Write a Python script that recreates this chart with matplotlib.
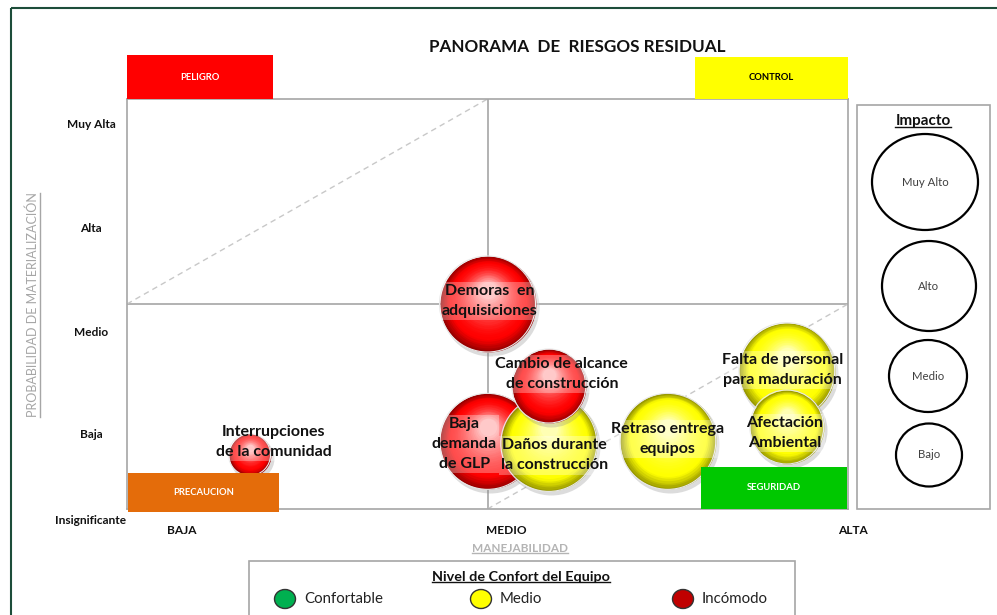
import numpy as np
import matplotlib
matplotlib.use("Agg")
import matplotlib.pyplot as plt
from matplotlib.patches import Rectangle, Ellipse
from matplotlib.transforms import ScaledTranslation
from matplotlib.colors import to_rgb

plt.rcParams['font.family'] = ['Lato', 'DejaVu Sans']

# datos del panorama
riesgos = ["Baja\ndemanda\nde GLP", "Daños durante\nla construcción",
           "Cambio de alcance\nde construcción", "Demoras  en\nadquisiciones",
           "Retraso entrega\nequipos", "Falta de personal\npara maduración",
           "Afectación\nAmbiental", "Interrupciones\nde la comunidad"]
manejabilidad = [5.0, 5.85, 5.85, 5.0, 7.5, 9.15, 9.15, 1.7]
probabilidad = [0.66, 0.64, 1.2, 2.0, 0.66, 1.35, 0.8, 0.53]
impacto = ["Alto", "Alto", "Medio", "Alto", "Alto", "Alto", "Medio", "Bajo"]
confort = ["Incómodo", "Medio", "Incómodo", "Incómodo", "Medio", "Medio", "Medio", "Incómodo"]

prob_labels = ["Insignificante", "Baja", "Medio", "Alta", "Muy Alta"]
manej_labels = ["BAJA", "MEDIO", "ALTA"]
impacto_niveles = ["Muy Alto", "Alto", "Medio", "Bajo"]
confort_niveles = ["Confortable", "Medio", "Incómodo"]

# estilos / posiciones (pixeles)
W, H = 997, 615
radio_px = {"Muy Alto": 53, "Alto": 48, "Medio": 37, "Bajo": 21}
color_confort = {"Confortable": "#00b050", "Medio": "#ffff00", "Incómodo": "#ff0000"}
color_leyenda = {"Confortable": "#00b050", "Medio": "#ffff00", "Incómodo": "#c00000"}
offset_label = [(-23, -3), (6, -12), (13, 12), (2, 3), (0, 2), (-4, 1), (-2, -6), (24, 13)]
prob_y = [521, 435, 332, 228, 125]
manej_x = [182, 506, 853]
imp_pos = [(925, 182, 106, 96), (929, 286, 94, 90), (928, 376, 78, 72), (929, 455, 66, 63)]
leg_pos = [285, 481, 683]

fig = plt.figure(figsize=(W / 100, H / 100), dpi=100)
ax = fig.add_axes([127 / W, 1 - 509 / H, 721 / W, 410 / H])
ax.set_xlim(0, 10)
ax.set_ylim(0, 4)
ax.set_xticks([])
ax.set_yticks([])
for s in ax.spines.values():
    s.set_color('#a6a6a6')
    s.set_linewidth(1.2)
ax.axvline(5, color='#a6a6a6', lw=1.2, zorder=1)
ax.axhline(2, color='#a6a6a6', lw=1.2, zorder=1)
ax.plot([0, 5], [2, 4], ls=(0, (4, 3)), color='#c8c8c8', lw=1, zorder=1)
ax.plot([5, 10], [0, 2], ls=(0, (4, 3)), color='#c8c8c8', lw=1, zorder=1)


def esfera(x, y, r, color, z):
    base = np.array(to_rgb(color))
    oscuro = base * 0.6
    claro = base + (1 - base) * 0.7
    pt = 72 / fig.dpi
    sombra = ax.transData + ScaledTranslation(2 / fig.dpi, -3 / fig.dpi, fig.dpi_scale_trans)
    ax.scatter([x], [y], s=(2 * (r + 1) * pt) ** 2, color='0.55', alpha=0.3,
               transform=sombra, zorder=z, linewidths=0, clip_on=False)
    n = 26
    for i in range(n):
        t = i / (n - 1)
        rr = r * (1 - 0.82 * t)
        dy = 0.3 * r * t
        if t < 0.22:
            c = oscuro + (base - oscuro) * (t / 0.22)
        else:
            c = base + (claro - base) * ((t - 0.22) / 0.78) ** 1.6
        tr = ax.transData + ScaledTranslation(0, dy / fig.dpi, fig.dpi_scale_trans)
        ax.scatter([x], [y], s=(2 * rr * pt) ** 2, color=np.clip(c, 0, 1),
                   transform=tr, zorder=z + 0.01 * (i + 1), linewidths=0, clip_on=False)
    ax.scatter([x], [y], s=(2 * r * pt) ** 2, facecolors='none', edgecolors='#e8e8e8',
               linewidths=0.8, zorder=z + 0.5, clip_on=False)


for k in range(len(riesgos)):
    esfera(manejabilidad[k], probabilidad[k], radio_px[impacto[k]], color_confort[confort[k]], 2 + k)

for k in range(len(riesgos)):
    ax.annotate(riesgos[k], (manejabilidad[k], probabilidad[k]), xytext=offset_label[k],
                textcoords='offset pixels', ha='center', va='center', fontsize=11.5,
                fontweight='bold', color='#111111', linespacing=1.55, zorder=20,
                bbox=dict(facecolor='white', alpha=0.3, edgecolor='none', pad=1.5))

# capa de decoracion en pixeles
deco = fig.add_axes([0, 0, 1, 1])
deco.set_xlim(0, W)
deco.set_ylim(H, 0)
deco.axis('off')

deco.add_patch(Rectangle((11, 8), 1000, 700, facecolor='none', edgecolor='#1d4d3a', lw=1.5))

deco.text(577, 47, "PANORAMA  DE  RIESGOS RESIDUAL", ha='center', va='center',
          fontsize=12.3, fontweight='bold', color='#111111')

cajas = [((127, 55, 146, 44), '#ff0000', 'PELIGRO', 'white'),
         ((695, 57, 153, 42), '#ffff00', 'CONTROL', 'black'),
         ((128, 473, 151, 39), '#e46c0a', 'PRECAUCION', 'white'),
         ((701, 467, 146, 42), '#00c800', 'SEGURIDAD', 'white')]
for (x0, y0, w, h), c, txt, tc in cajas:
    deco.add_patch(Rectangle((x0, y0), w, h, facecolor=c, edgecolor='none', zorder=3))
    deco.text(x0 + w / 2, y0 + h / 2, txt, ha='center', va='center', fontsize=6.8,
              fontweight='bold', color=tc, zorder=4)

for lab, y in zip(prob_labels, prob_y):
    deco.text(91, y, lab, ha='center', va='center', fontsize=8.6, fontweight='bold', color='#111111')
for lab, x in zip(manej_labels, manej_x):
    deco.text(x, 531, lab, ha='center', va='center', fontsize=8.6, fontweight='bold', color='#111111')

subrayados = []
t_prob = deco.text(33, 305, "PROBABILIDAD DE MATERIALIZACIÓN", rotation=90, ha='center',
                   va='center', fontsize=9, color='#a6a6a6')
t_man = deco.text(520, 548, "MANEJABILIDAD", ha='center', va='center', fontsize=8.5,
                  fontweight='bold', color='#b4b4b4')
subrayados.append((t_man, '#b4b4b4'))

# panel de impacto
deco.add_patch(Rectangle((857, 105), 133, 404, facecolor='white', edgecolor='#a6a6a6', lw=1.2))
t_imp = deco.text(923, 121, "Impacto", ha='center', va='center', fontsize=11,
                  fontweight='bold', color='#111111')
subrayados.append((t_imp, '#111111'))
for lab, (cx, cy, w, h) in zip(impacto_niveles, imp_pos):
    deco.add_patch(Ellipse((cx, cy), w, h, facecolor='white', edgecolor='black', lw=1.6))
    deco.text(cx, cy, lab, ha='center', va='center', fontsize=8.2, color='#404040')

# leyenda de confort
deco.add_patch(Rectangle((249, 561), 546, 70, facecolor='white', edgecolor='#a6a6a6', lw=1.2))
t_leg = deco.text(521, 577, "Nivel de Confort del Equipo", ha='center', va='center',
                  fontsize=10.4, fontweight='bold', color='#111111')
subrayados.append((t_leg, '#111111'))
for lab, cx in zip(confort_niveles, leg_pos):
    deco.add_patch(Ellipse((cx, 599), 21, 19, facecolor=color_leyenda[lab],
                           edgecolor='#333333', lw=1))
    deco.text(cx + 19, 599, lab, ha='left', va='center', fontsize=10.8, color='#222222')

fig.canvas.draw()
inv = deco.transData.inverted()
for t, c in subrayados:
    bb = t.get_window_extent()
    (x0, y0), (x1, y1) = inv.transform([(bb.x0, bb.y0), (bb.x1, bb.y1)])
    deco.plot([x0, x1], [y0 - 1, y0 - 1], color=c, lw=1)
bb = t_prob.get_window_extent()
(x0, y0), (x1, y1) = inv.transform([(bb.x0, bb.y0), (bb.x1, bb.y1)])
deco.plot([x1 + 1, x1 + 1], [y0, y1], color='#a6a6a6', lw=1)

fig.savefig("out.png", dpi=100)
